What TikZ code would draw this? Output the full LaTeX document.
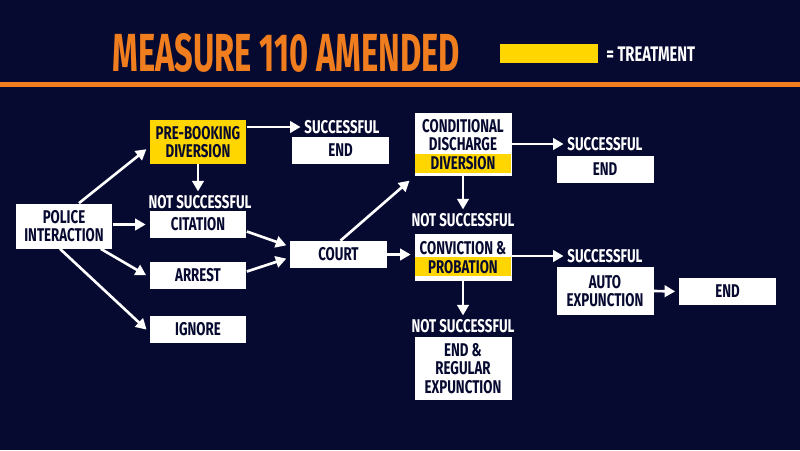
\documentclass[tikz,border=0pt]{standalone}
\usepackage{fontspec}
\usepackage{tikz}
\usetikzlibrary{calc}
\usetikzlibrary{arrows.meta}
\setmainfont{Fira Sans}[FakeStretch=0.72]
\newfontfamily\titlefont{Fira Sans}[FakeStretch=0.61]
\definecolor{navy}{RGB}{7,10,48}
\definecolor{measureorange}{RGB}{240,125,30}
\definecolor{treat}{RGB}{255,214,0}

\begin{document}
\begin{tikzpicture}[x=0.02cm, y=-0.02cm,
    box/.style={rectangle, fill=white, text=navy, minimum width=1.94cm, minimum height=0.54cm, inner sep=0pt, align=center, font=\bfseries\fontsize{10.5}{10.4}\selectfont},
    outcome/.style={text=white, inner sep=0pt, align=center, font=\bfseries\fontsize{10.5}{10.4}\selectfont},
    arr/.style={draw=white, line width=1.5pt, -{Triangle[length=6pt, width=6.5pt]}, shorten >=2pt}]
            \fill[navy] (0, 0) rectangle (800, 450);
            \fill[measureorange] (0, 82) rectangle (800, 87);
            \node[text=measureorange, inner sep=0pt, anchor=west, font=\titlefont\bfseries\fontsize{30.5}{30}\selectfont] (title) at (112, 52.5) {MEASURE 110 AMENDED};
            \node[fill=treat, minimum width=1.96cm, minimum height=0.38cm, inner sep=0pt] (key) at (549, 53.5) {};
            \node[outcome, anchor=west, font=\bfseries\fontsize{12}{12}\selectfont\addfontfeature{FakeStretch=0.7}] (keytext) at (606, 54.5) {= TREATMENT};

            \node[box, minimum height=0.9cm] (police) at (64, 226) {POLICE\\INTERACTION};
            \node[box, fill=treat, minimum height=0.88cm] (pbd) at (198, 142) {PRE-BOOKING\\DIVERSION};
            \node[outcome] (ok1) at (342, 127) {SUCCESSFUL};
            \node[box] (end1) at (340.5, 150.5) {END};
            \node[outcome] (notok1) at (200, 202) {NOT SUCCESSFUL};
            \node[box] (citation) at (198, 224.5) {CITATION};
            \node[box] (arrest) at (198, 275.5) {ARREST};
            \node[box] (ignore) at (198, 329) {IGNORE};
            \node[box] (court) at (338.5, 254.5) {COURT};

            \node[box, minimum height=1.26cm] (cdd) at (463, 144.5) {};
            \fill[treat] ($(cdd.south west) + (1, -3)$) rectangle ($(cdd.south east) + (-1, -22)$);
            \node[outcome, text=navy] (cddtext) at (cdd) {CONDITIONAL\\DISCHARGE\\DIVERSION};
            \node[outcome] (ok2) at (605, 144) {SUCCESSFUL};
            \node[box] (end2) at (605, 169.5) {END};
            \node[outcome] (notok2) at (463, 220) {NOT SUCCESSFUL};

            \node[box, minimum height=0.94cm] (conv) at (463, 257.5) {};
            \fill[treat] ($(conv.south west) + (1, -5)$) rectangle ($(conv.south east) + (-1, -24)$);
            \node[outcome, text=navy] (convtext) at (conv) {CONVICTION \&\\PROBATION};
            \node[outcome] (ok3) at (605, 256) {SUCCESSFUL};
            \node[box, minimum height=0.96cm] (auto) at (605, 291) {AUTO\\EXPUNCTION};
            \node[box] (end3) at (727.5, 291.5) {END};
            \node[outcome] (notok3) at (463, 326) {NOT SUCCESSFUL};
            \node[box, minimum height=1.26cm] (regular) at (463, 368.5) {END \&\\REGULAR\\EXPUNCTION};

            \draw[arr] ($(police.north) + (15, 0)$) -- ($(pbd.west) + (0, 5)$);
            \draw[arr] (police.east |- citation.west) -- (citation.west);
            \draw[arr] ($(police.south east) + (-12, 0)$) -- ($(arrest.west) + (0, 1.5)$);
            \draw[arr] ($(police.south) + (-4, 0)$) -- ($(ignore.west) + (0, 3)$);
            \draw[arr] (pbd.east |- ok1.west) -- (ok1.west);
            \draw[arr] (pbd.south) -- (pbd.south |- notok1.north);
            \draw[arr] ($(citation.east) + (0, 7)$) -- ($(court.west) + (0, -8)$);
            \draw[arr] ($(arrest.east) + (0, -4)$) -- ($(court.west) + (0, 3)$);
            \draw[arr] ($(court.north) + (2, 0)$) -- ($(cdd.south west) + (-2, 2)$);
            \draw[arr] (court.east) -- (court.east -| conv.west);
            \draw[arr] (cdd.east |- ok2.west) -- (ok2.west);
            \draw[arr] (cdd.south) -- (cdd.south |- notok2.north);
            \draw[arr] (conv.east |- ok3.west) -- (ok3.west);
            \draw[arr] (conv.south) -- (conv.south |- notok3.north);
            \draw[arr] (auto.east) -- (end3.west);
        \end{tikzpicture}
\end{document}
